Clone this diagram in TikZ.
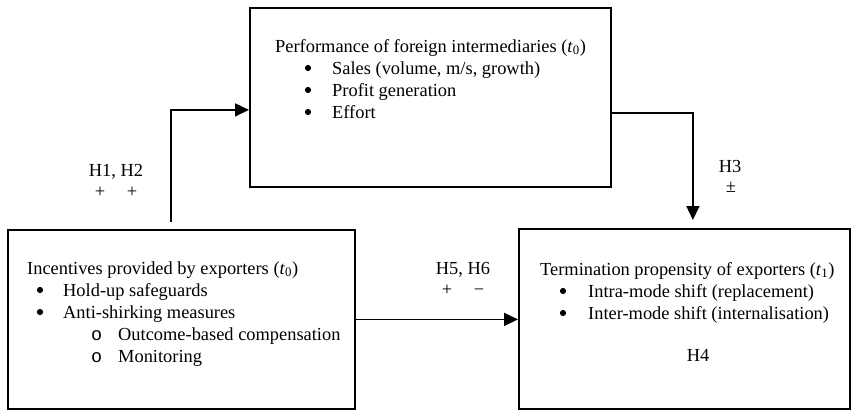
\documentclass[tikz,border=0pt]{standalone}
\usepackage{fontspec}
\setmainfont{Liberation Serif}
\newfontfamily\monofam{Liberation Mono}
\usetikzlibrary{arrows.meta, calc}

% one list line: indent, width of the mark box, mark, text
\newcommand{\lvl}[4]{\hspace*{#1}\makebox[#2][l]{#3}#4}
\newcommand{\tnull}{\textit{t}\textsubscript{0}}
\newcommand{\tone}{\textit{t}\textsubscript{1}}

\begin{document}
\begin{tikzpicture}[
		x=1pt, y=-1pt, % pixel-like grid, y down
		font=\fontsize{18.4}{22}\selectfont,
		box/.style={draw, line width=1.8pt, inner sep=0pt, anchor=north west},
		txt/.style={anchor=base west, inner sep=0pt},
		lbl/.style={anchor=base, inner sep=0pt},
		flow/.style={line width=1.6pt, -{Triangle[length=14pt, width=13pt]}}
		]
		
		\useasboundingbox (0,0) rectangle (851,410);
		
		% --- 1. The three boxes ---
		\node[box, minimum width=361pt, minimum height=179pt] (perf) at (249,7) {};
		\node[box, minimum width=347pt, minimum height=179pt] (inc) at (7,229) {};
		\node[box, minimum width=331pt, minimum height=180pt] (term) at (518,228) {};
		
		% --- 2. Box contents ---
		\node[txt] (perftxt) at (275,52) {%
			\begin{tabular}[t]{@{}l@{}}
				Performance of foreign intermediaries (\tnull)\\
				\lvl{29pt}{28pt}{}{Sales (volume, m/s, growth)}\\
				\lvl{29pt}{28pt}{}{Profit generation}\\
				\lvl{29pt}{28pt}{}{Effort}
			\end{tabular}};
		
		\node[txt] (inctxt) at (27,274) {%
			\begin{tabular}[t]{@{}l@{}}
				Incentives provided by exporters (\tnull)\\
				\lvl{9pt}{27pt}{}{Hold-up safeguards}\\
				\lvl{9pt}{27pt}{}{Anti-shirking measures}\\
				\lvl{64pt}{27pt}{\monofam o}{Outcome-based compensation}\\
				\lvl{64pt}{27pt}{\monofam o}{Monitoring}
			\end{tabular}};
		
		\node[txt] (termtxt) at (540,275) {%
			\begin{tabular}[t]{@{}l@{}}
				Termination propensity of exporters (\tone)\\
				\lvl{19pt}{29pt}{}{Intra-mode shift (replacement)}\\
				\lvl{19pt}{29pt}{}{Inter-mode shift (internalisation)}
			\end{tabular}};
		\node[lbl] (h4) at (698,361) {H4};
		
		% bullets
		\foreach \bx/\by in {308/68, 308/90, 308/112, 40/290, 40/312, 563/291, 563/313}
			\fill (\bx,\by) circle (3.1pt);
		
		% --- 3. Arrows ---
		\draw[flow] ([xshift=164pt, yshift=7pt]inc.north west) |- ([yshift=-12.5pt]perf.west);
		\draw[flow] ([yshift=-15.5pt]perf.east) -| ([xshift=8.5pt, yshift=8pt]term.north);
		\draw[flow] (inc.east) -- (inc.east -| term.west);
		
		% --- 4. Hypothesis labels ---
		\node[lbl] (h12) at (116,176) {H1, H2};
		\node[lbl] (h12s) at (116,197) {+\hspace{21.6pt}+};
		\node[lbl] (h3) at (730,172) {H3};
		\node[lbl] (h3s) at (731,192) {±};
		\node[lbl] (h56) at (463,274) {H5, H6};
		\node[lbl] (h56s) at (463,295) {+\hspace{21.6pt}−};
		
	\end{tikzpicture}
\end{document}
